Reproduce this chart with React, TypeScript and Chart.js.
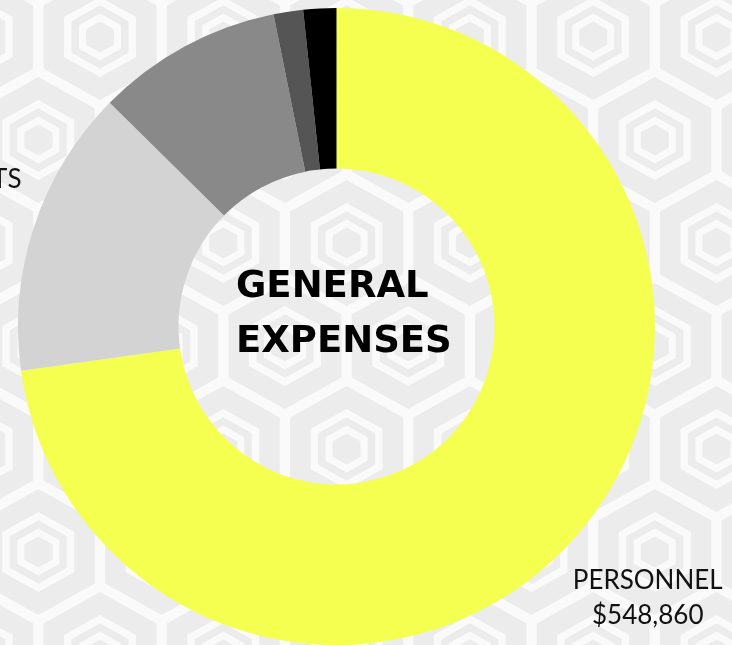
import React, { useEffect, useRef } from "react";
import { Chart, registerables } from "chart.js";

Chart.register(...registerables);

const categories = ["PERSONNEL", "CONTRACTS", "OPERATIONS", "TRAVEL", "OTHER"];
const amounts = [548860, 110100, 71200, 11300, 12600];
const sliceColors = ["#f5ff50", "#d3d3d3", "#898989", "#555555", "#000000"];
const centerTitle = ["GENERAL", "EXPENSES"];

const fmt = (v: number) => "$" + v.toLocaleString("en-US");

const hexBackground = {
  id: "hexBackground",
  beforeDraw(chart: any) {
    const ctx = chart.ctx as CanvasRenderingContext2D;
    const W = chart.width;
    const H = chart.height;
    ctx.save();
    ctx.fillStyle = "#fafafa";
    ctx.fillRect(0, 0, W, H);
    const dx = 123.3;
    const dy = 103;
    const x0 = 100;
    const y0 = 37;
    const sy = dy / ((dx * Math.sqrt(3)) / 2);
    const bands: [number, string][] = [
      [56.5, "#ececec"],
      [36, "#fafafa"],
      [28.5, "#ececec"],
      [21, "#fafafa"],
      [14, "#ececec"],
    ];
    for (let r = -1; r <= Math.ceil(H / dy) + 1; r++) {
      const cy = y0 + r * dy;
      const off = ((r % 2) + 2) % 2 === 1 ? dx / 2 : 0;
      for (let c = -2; c <= Math.ceil(W / dx) + 1; c++) {
        const cx = x0 + c * dx + off;
        for (const [a, col] of bands) {
          const rad = (a * 2) / Math.sqrt(3);
          ctx.beginPath();
          for (let k = 0; k < 6; k++) {
            const ang = ((k * 60 - 90) * Math.PI) / 180;
            const px = cx + rad * Math.cos(ang);
            const py = cy + rad * Math.sin(ang) * sy;
            if (k === 0) ctx.moveTo(px, py);
            else ctx.lineTo(px, py);
          }
          ctx.closePath();
          ctx.fillStyle = col;
          ctx.fill();
        }
      }
    }
    ctx.restore();
  },
};

const labelsPlugin = {
  id: "outerLabels",
  afterDatasetsDraw(chart: any) {
    const ctx = chart.ctx as CanvasRenderingContext2D;
    const meta = chart.getDatasetMeta(0);
    ctx.save();
    ctx.font = "400 26px Lato, 'Open Sans', sans-serif";
    ctx.fillStyle = "#111111";
    ctx.textAlign = "center";
    ctx.textBaseline = "alphabetic";
    meta.data.forEach((arc: any, i: number) => {
      const { x, y, startAngle, endAngle, outerRadius } = arc.getProps(
        ["x", "y", "startAngle", "endAngle", "outerRadius"],
        true
      );
      const mid = (startAngle + endAngle) / 2;
      const r = outerRadius + 94;
      const lx = x + Math.cos(mid) * r;
      const ly = y + Math.sin(mid) * r;
      ctx.fillText(categories[i], lx, ly - 8.5);
      ctx.fillText(fmt(amounts[i]), lx, ly + 26.5);
    });
    ctx.restore();
  },
  afterDraw(chart: any) {
    const ctx = chart.ctx as CanvasRenderingContext2D;
    const arc = chart.getDatasetMeta(0).data[0];
    if (!arc) return;
    const { x, y } = arc.getProps(["x", "y"], true);
    ctx.save();
    ctx.font = "bold 37px 'DejaVu Sans', sans-serif";
    ctx.fillStyle = "#000000";
    ctx.textAlign = "left";
    ctx.textBaseline = "alphabetic";
    ctx.fillText(centerTitle[0], x - 100.5, y - 29.5);
    ctx.fillText(centerTitle[1], x - 100.5, y + 25.5);
    ctx.restore();
  },
};

export default function App() {
  const ref = useRef<HTMLCanvasElement | null>(null);
  useEffect(() => {
    if (!ref.current) return;
    const chart = new Chart(ref.current, {
      type: "doughnut",
      data: {
        labels: categories,
        datasets: [
          {
            data: amounts,
            backgroundColor: sliceColors,
            borderWidth: 0,
            hoverOffset: 0,
          },
        ],
      },
      options: {
        animation: false,
        responsive: true,
        maintainAspectRatio: false,
        events: [],
        cutout: "49.6%",
        layout: { padding: { left: 18, right: 77, top: 8, bottom: 0 } },
        plugins: {
          legend: { display: false },
          tooltip: { enabled: false },
        },
      },
      plugins: [hexBackground, labelsPlugin],
    });
    return () => chart.destroy();
  }, []);
  return (
    <div style={{ position: "fixed", left: 0, top: 0, width: 732, height: 645 }}>
      <canvas ref={ref} />
    </div>
  );
}
